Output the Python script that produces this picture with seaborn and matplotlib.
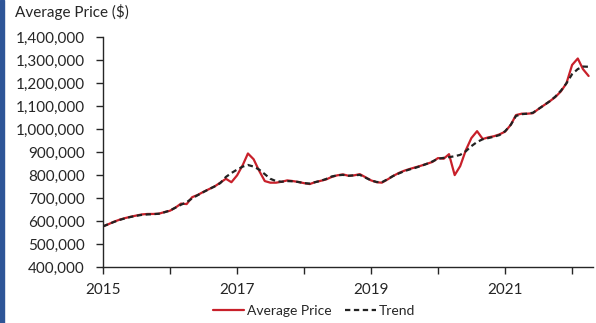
import numpy as np
import pandas as pd
import matplotlib
matplotlib.use("Agg")
import matplotlib.pyplot as plt
import matplotlib.ticker as mticker
import matplotlib.dates as mdates
import seaborn as sns

# monthly average price, thousands of dollars, Jan 2015 - Apr 2022
avg_price = (
    [578, 588, 598, 607, 614, 620, 625, 630, 632, 632, 633, 640]            # 2015
    + [646, 660, 677, 675, 705, 715, 728, 740, 752, 768, 785, 770]          # 2016
    + [800, 845, 895, 870, 820, 775, 768, 768, 772, 778, 775, 771]          # 2017
    + [766, 762, 770, 776, 782, 793, 800, 804, 798, 800, 805, 792]          # 2018
    + [778, 770, 768, 782, 797, 810, 820, 828, 835, 842, 850, 858]          # 2019
    + [875, 872, 892, 801, 840, 910, 962, 992, 958, 965, 970, 978]          # 2020
    + [990, 1020, 1062, 1068, 1068, 1070, 1088, 1105, 1122, 1140, 1165, 1200]  # 2021
    + [1280, 1308, 1262, 1232]                                              # 2022
)
trend = (
    [578, 588, 597, 606, 613, 619, 624, 628, 630, 631, 633, 639]
    + [647, 660, 672, 683, 700, 714, 727, 740, 752, 766, 793, 810]
    + [825, 838, 845, 838, 825, 805, 785, 775, 772, 775, 774, 771]
    + [766, 764, 770, 776, 784, 795, 800, 802, 798, 800, 802, 790]
    + [778, 771, 770, 783, 797, 808, 818, 826, 833, 841, 850, 860]
    + [872, 876, 879, 883, 889, 905, 927, 945, 957, 962, 968, 975]
    + [992, 1020, 1058, 1066, 1068, 1072, 1088, 1105, 1122, 1142, 1168, 1200]
    + [1240, 1262, 1273, 1272]
)
months = pd.date_range("2015-01-01", periods=len(avg_price), freq="MS")
year_labels = ["2015", "", "2017", "", "2019", "", "2021", ""]

df = pd.DataFrame({
    "date": months,
    "Average Price": np.array(avg_price) * 1000,
    "Trend": np.array(trend) * 1000,
})

sns.set_theme(style="ticks")
plt.rcParams["font.family"] = ["Lato", "DejaVu Sans"]

fig = plt.figure(figsize=(5.96, 3.23), dpi=100)
ax = fig.add_axes([0.1728, 0.1724, 0.8222, 0.712])

sns.lineplot(data=df, x="date", y="Average Price", ax=ax, color="#C8202A",
             linewidth=1.6, label="Average Price")
sns.lineplot(data=df, x="date", y="Trend", ax=ax, color="#222222",
             linewidth=1.6, dashes=(2.4, 1.6), label="Trend")

ax.set_ylim(400000, 1400000)
ax.set_xlim(pd.Timestamp("2015-01-01"), pd.Timestamp("2022-04-25"))
ax.yaxis.set_major_locator(mticker.MultipleLocator(100000))
ax.yaxis.set_major_formatter(mticker.StrMethodFormatter("{x:,.0f}"))
ax.xaxis.set_major_locator(mdates.YearLocator())
ax.set_xticks(ax.get_xticks())
ax.set_xticklabels(year_labels)
ax.set_xlabel("")
ax.set_ylabel("")
ax.tick_params(axis="both", labelsize=11, colors="#262626", length=5, width=1)
ax.tick_params(axis="y", pad=8)
ax.tick_params(axis="x", pad=6)
for side in ["left", "bottom"]:
    ax.spines[side].set_color("#262626")
    ax.spines[side].set_linewidth(1)
sns.despine(ax=ax)

fig.text(0.025, 0.962, "Average Price ($)", fontsize=11, color="#262626",
         ha="left", va="center")

ax.get_legend().remove()
handles, labels = ax.get_legend_handles_labels()
fig.legend(handles, labels, loc="lower center", bbox_to_anchor=(0.527, -0.02),
           ncol=2, frameon=False, fontsize=10, handlelength=2.2,
           handletextpad=0.2, columnspacing=1.0, labelcolor="#262626")

fig.patches.append(plt.Rectangle((0, 0), 0.007, 1, transform=fig.transFigure,
                                 color="#2E5597", zorder=10))

fig.savefig("out.png", dpi=100)
